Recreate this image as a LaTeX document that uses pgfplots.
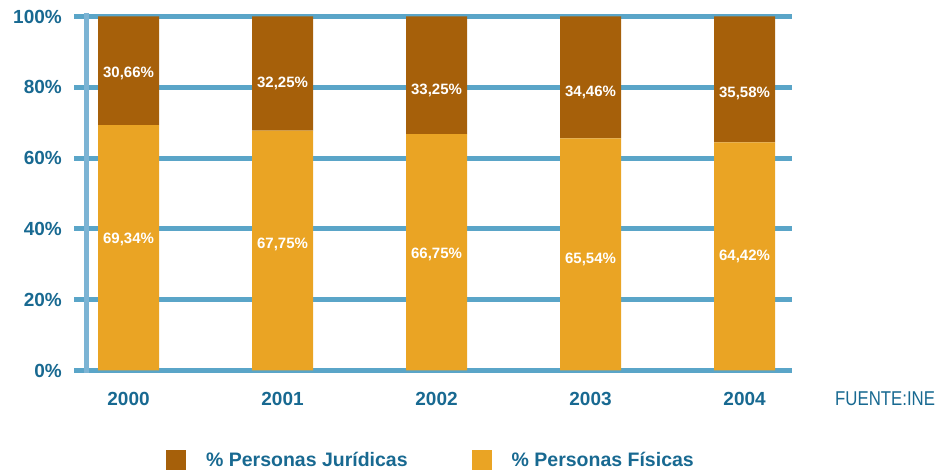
\documentclass[border=0pt]{standalone}
\usepackage{fontspec}
\setmainfont{Liberation Sans}
\usepackage{graphicx}
\usepackage{pgfplots}
\usepackage{pgfplotstable}
\pgfplotsset{compat=1.18}
\definecolor{juri}{HTML}{A6600A}
\definecolor{fisi}{HTML}{EAA424}
\definecolor{gridc}{HTML}{5AA5C8}
\definecolor{vline}{HTML}{7CB4D4}
\definecolor{txt}{HTML}{186991}

% shares per year
\pgfplotstableread{
x fis jur
0 69.34 30.66
1 67.75 32.25
2 66.75 33.25
3 65.54 34.46
4 64.42 35.58
}\shares

% where the value labels sit
\pgfplotstableread{
x yj labj yf labf
0 83.95 30,66\% 37.06 69,34\%
1 81.13 32,25\% 35.73 67,75\%
2 79.04 33,25\% 32.91 66,75\%
3 78.59 34,46\% 31.41 65,54\%
4 78.31 35,58\% 32.15 64,42\%
}\labs

\newcommand{\bigb}{\fontsize{19}{19}\selectfont\bfseries}

\begin{document}
\begin{tikzpicture}
\path[use as bounding box] (0,0) rectangle (940pt,473pt);
\begin{axis}[
  at={(74pt,102.5pt)}, anchor=south west,
  scale only axis, width=718pt, height=354pt,
  ybar stacked, bar width=0.396,
  xmin=-0.354, xmax=4.308, ymin=0, ymax=100,
  xtick={0,1,2,3,4}, xticklabels={2000,2001,2002,2003,2004},
  ytick={0,20,40,60,80,100},
  yticklabels={0\%,20\%,40\%,60\%,80\%,100\%},
  ymajorgrids, major grid style={line width=5pt, draw=gridc},
  axis line style={draw=none},
  major tick length=0pt,
  tick label style={font=\bigb, text=txt, inner sep=0pt},
  xticklabel style={anchor=north, yshift=-22pt},
  yticklabel style={anchor=east, xshift=-12pt},
  clip=false,
  legend columns=2, reverse legend,
  legend style={at={(axis description cs:0.128,-0.253)}, anchor=west,
    draw=none, fill=none, inner sep=0pt,
    font=\fontsize{19.5}{19.5}\selectfont\bfseries, text=txt,
    nodes={inner sep=0pt},
    /tikz/every odd column/.append style={column sep=20pt},
    /tikz/every even column/.append style={column sep=64pt}},
]
\addplot[fill=fisi, draw=none,
  legend image code/.code={\fill[fisi] (0pt,-10pt) rectangle (20pt,10pt);}]
  table[x=x, y=fis] {\shares};
\addlegendentry{\% Personas Físicas}
\addplot[fill=juri, draw=none,
  legend image code/.code={\fill[juri] (0pt,-10pt) rectangle (20pt,10pt);}]
  table[x=x, y=jur] {\shares};
\addlegendentry{\% Personas Jurídicas}
\draw[vline, line width=5pt] (axis cs:-0.276,-0.7) -- (axis cs:-0.276,101);
\end{axis}

\begin{axis}[
  at={(74pt,102.5pt)}, anchor=south west,
  scale only axis, width=718pt, height=354pt,
  xmin=-0.354, xmax=4.308, ymin=0, ymax=100,
  hide axis, clip=false,
  nodes near coords, point meta=explicit symbolic,
  nodes near coords style={anchor=center, text=white,
    font=\fontsize{15}{15}\selectfont\bfseries},
]
\addplot[draw=none, mark=none] table[x=x, y=yj, meta=labj] {\labs};
\addplot[draw=none, mark=none] table[x=x, y=yf, meta=labf] {\labs};
\end{axis}

\node[anchor=west, inner sep=0pt, text=txt, font=\fontsize{20}{20}\selectfont]
  at (835pt,74pt) {\scalebox{0.84}[1]{FUENTE:INE}};
\end{tikzpicture}
\end{document}
